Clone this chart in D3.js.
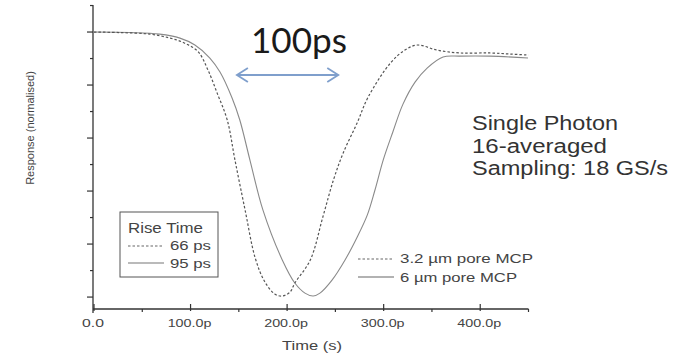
<!DOCTYPE html>
<html>
<head>
<meta charset="utf-8">
<script src="https://cdn.jsdelivr.net/npm/d3@7"></script>
<style>
  body { margin: 0; background: #fff; }
  svg { display: block; font-family: "Liberation Sans", Arial, sans-serif; }
</style>
</head>
<body>
<svg id="chart" width="677" height="357"></svg>
<script>
// time in ps, response normalised (0 = baseline, -1 = peak)
const time32 = [0, 27, 58, 79, 94, 108, 118, 127.5, 138, 146, 156.5, 167, 177, 187.5, 195, 203, 208, 224, 237, 248, 258, 272.5, 284, 307, 322, 335, 355, 379, 410, 431, 450];
const resp32 = [0, -0.002, -0.008, -0.023, -0.042, -0.075, -0.143, -0.23, -0.332, -0.483, -0.672, -0.853, -0.943, -0.989, -0.996, -0.981, -0.947, -0.86, -0.698, -0.558, -0.457, -0.343, -0.245, -0.117, -0.068, -0.049, -0.068, -0.079, -0.079, -0.083, -0.087];

const time6 = [0, 37, 68, 89, 104.5, 120, 130.5, 143, 151, 161.5, 175, 195, 208, 218.5, 227, 234, 246.5, 260, 272.5, 283, 291, 299.5, 309.5, 320, 332.5, 345, 361.5, 379, 410, 449.5];
const resp6 = [0, -0.002, -0.008, -0.023, -0.049, -0.098, -0.151, -0.249, -0.332, -0.483, -0.672, -0.86, -0.947, -0.985, -0.996, -0.985, -0.936, -0.86, -0.774, -0.691, -0.596, -0.483, -0.377, -0.272, -0.189, -0.136, -0.094, -0.091, -0.091, -0.098];

const xTicks = [0, 100, 200, 300, 400];
const xTickLabels = ["0.0", "100.0p", "200.0p", "300.0p", "400.0p"];
const xMinorTicks = [50, 150, 250, 350, 450];
const yTicks = [0, -0.2, -0.4, -0.6, -0.8, -1.0];
const yMinorTicks = [0.1, -0.1, -0.3, -0.5, -0.7, -0.9];

const seriesNames = ["3.2 \u00b5m pore MCP", "6 \u00b5m pore MCP"];
const riseTimes = ["66 ps", "95 ps"];
const infoLines = ["Single Photon", "16-averaged", "Sampling: 18 GS/s"];
const spanLabel = "100ps";
const spanTimes = [148, 253];

const svg = d3.select("#chart");

const x = d3.scaleLinear().domain([0, 450]).range([94, 528.5]);
const y = d3.scaleLinear().domain([-1.045, 0.102]).range([309, 5]);

const axisColor = "#333";
const labelColor = "#444";

// stretched text helper (the source picture is wider than tall)
function label(g, txt, px, py, size, len, anchor) {
  const t = g.append("text")
    .attr("x", px).attr("y", py)
    .attr("font-size", size)
    .attr("fill", labelColor)
    .attr("text-anchor", anchor || "start")
    .text(txt);
  if (len) t.attr("textLength", len).attr("lengthAdjust", "spacingAndGlyphs");
  return t;
}

// y axis
const yAxis = svg.append("g").attr("transform", "translate(93,0)");
yAxis.append("line").attr("y1", 5).attr("y2", 313).attr("stroke", axisColor).attr("stroke-width", 1.3);
yAxis.selectAll(".maj").data(yTicks).enter().append("line")
  .attr("x1", -6).attr("x2", 0)
  .attr("y1", d => y(d)).attr("y2", d => y(d))
  .attr("stroke", axisColor).attr("stroke-width", 1.2);
yAxis.selectAll(".min").data(yMinorTicks).enter().append("line")
  .attr("x1", -3).attr("x2", 0)
  .attr("y1", d => y(d)).attr("y2", d => y(d))
  .attr("stroke", axisColor).attr("stroke-width", 1.2);

// x axis
const xAxis = svg.append("g").attr("transform", "translate(0,309)");
xAxis.append("line").attr("x1", 93).attr("x2", x(450)).attr("stroke", axisColor).attr("stroke-width", 1.3);
xAxis.selectAll(".maj").data(xTicks).enter().append("line")
  .attr("x1", d => x(d)).attr("x2", d => x(d))
  .attr("y1", -5).attr("y2", 2)
  .attr("stroke", axisColor).attr("stroke-width", 1.2);
xAxis.selectAll(".min").data(xMinorTicks).enter().append("line")
  .attr("x1", d => x(d)).attr("x2", d => x(d))
  .attr("y1", 0).attr("y2", 3)
  .attr("stroke", axisColor).attr("stroke-width", 1.2);
xTicks.forEach((d, i) => {
  label(xAxis, xTickLabels[i], x(d) - 1, 18, 11, xTickLabels[i].length * 7.3, "middle");
});

label(svg, "Time (s)", 312, 350, 12, 60, "middle");
svg.append("text")
  .attr("transform", "translate(34,128) rotate(-90)")
  .attr("text-anchor", "middle")
  .attr("font-size", 11)
  .attr("fill", labelColor)
  .text("Response (normalised)");

// curves
const line = d3.line()
  .x(d => x(d[0]))
  .y(d => y(d[1]))
  .curve(d3.curveCatmullRom);

svg.append("path")
  .datum(time6.map((t, i) => [t, resp6[i]]))
  .attr("d", line)
  .attr("fill", "none")
  .attr("stroke", "#8a8a8a")
  .attr("stroke-width", 1.1);

svg.append("path")
  .datum(time32.map((t, i) => [t, resp32[i]]))
  .attr("d", line)
  .attr("fill", "none")
  .attr("stroke", "#555")
  .attr("stroke-width", 1.2)
  .attr("stroke-dasharray", "2.5,2");

// 100ps arrow
const arrowY = 75;
const ax1 = x(spanTimes[0]), ax2 = x(spanTimes[1]);
const arrow = svg.append("g").attr("stroke", "#7f9fcc").attr("stroke-width", 1.8).attr("fill", "none");
arrow.append("line").attr("x1", ax1).attr("x2", ax2).attr("y1", arrowY).attr("y2", arrowY);
arrow.append("path").attr("d", `M${ax1 + 11},${arrowY - 7}L${ax1},${arrowY}L${ax1 + 11},${arrowY + 7}`);
arrow.append("path").attr("d", `M${ax2 - 11},${arrowY - 7}L${ax2},${arrowY}L${ax2 - 11},${arrowY + 7}`);

svg.append("text")
  .attr("x", 251).attr("y", 53)
  .attr("font-family", "Lato, 'Open Sans', sans-serif")
  .attr("font-size", 34)
  .attr("fill", "#1a1a1a")
  .attr("textLength", 96).attr("lengthAdjust", "spacingAndGlyphs")
  .text(spanLabel);

// info text
const infoWidths = [146, 135, 196];
infoLines.forEach((s, i) => {
  label(svg, s, 472, 130 + i * 22.5, 20, infoWidths[i]).attr("fill", "#333");
});

// rise time legend
const leg = svg.append("g");
leg.append("rect").attr("x", 120).attr("y", 212).attr("width", 98).attr("height", 65)
  .attr("fill", "#fff").attr("stroke", "#555").attr("stroke-width", 1);
label(leg, "Rise Time", 128, 233, 14, 75);
leg.append("line").attr("x1", 128).attr("x2", 164).attr("y1", 246).attr("y2", 246)
  .attr("stroke", "#666").attr("stroke-width", 1.2).attr("stroke-dasharray", "2.5,2");
leg.append("line").attr("x1", 128).attr("x2", 164).attr("y1", 263).attr("y2", 263)
  .attr("stroke", "#777").attr("stroke-width", 1.2);
label(leg, riseTimes[0], 170, 250, 13, 41);
label(leg, riseTimes[1], 170, 268, 13, 41);

// series legend
const leg2 = svg.append("g");
leg2.append("line").attr("x1", 358).attr("x2", 394).attr("y1", 259).attr("y2", 259)
  .attr("stroke", "#666").attr("stroke-width", 1.1).attr("stroke-dasharray", "2.5,2");
leg2.append("line").attr("x1", 358).attr("x2", 394).attr("y1", 277).attr("y2", 277)
  .attr("stroke", "#666").attr("stroke-width", 1.1);
label(leg2, seriesNames[0], 400, 263, 13, 133);
label(leg2, seriesNames[1], 400, 282, 13, 117);
</script>
</body>
</html>
